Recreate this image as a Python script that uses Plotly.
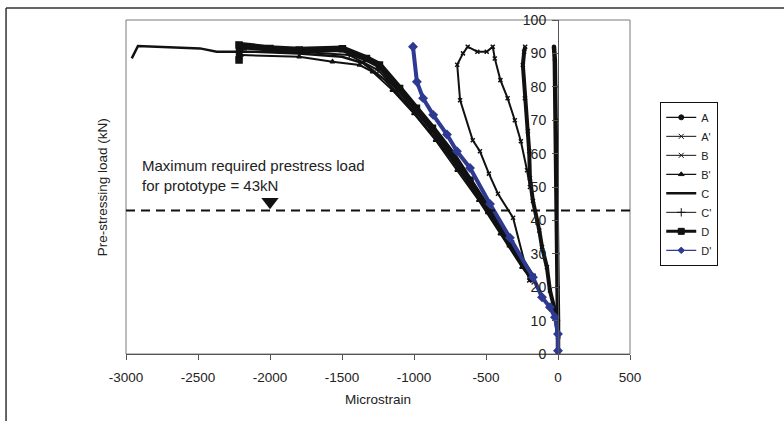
import plotly.graph_objects as go

# ---------------- data ----------------
A_x = [0, 2, 0, -3, -5, -8, -10, -12, -15, -18, -22, -28]
A_y = [0, 5, 10, 20, 30, 40, 50, 60, 70, 80, 88, 92]

A2_x = [0, -21, -56, -77, -111, -130, -174, -195, -200, -209, -230, -244, -235, -228]
A2_y = [5, 13, 19, 26, 32, 37, 45.8, 52.7, 60.7, 66.7, 76.6, 86.5, 90.5, 92]

B_x = [-200, -312, -417, -480, -542, -592, -680, -700, -660, -627, -560, -495, -453, -439, -400, -350, -300, -258, -215, -195]
B_y = [22, 40.8, 48, 54, 60.7, 64, 76, 86.6, 90, 92, 90.5, 90.5, 92, 88.5, 82, 76.6, 70, 63.7, 55, 50]

B2_x = [-180, -250, -400, -550, -700, -850, -1000, -1150, -1287, -1378, -1566, -1797, -2200]
B2_y = [22, 26, 36, 46, 55, 64, 72, 79, 84.5, 86.5, 87.5, 89, 89.5]

C_x = [-170, -300, -450, -600, -750, -900, -1050, -1200, -1350, -1500, -1800, -2100, -2370, -2486, -2917, -2960]
C_y = [22, 31, 41, 50, 59, 67, 75, 82, 87, 89, 90, 90.5, 90.5, 91.5, 92.2, 88.5]

C2_x = [-180, -350, -520, -700, -880, -1050, -1250, -1450, -1800, -2190]
C2_y = [23, 35, 46, 57, 67, 76, 85, 89.5, 90.5, 91.5]

D_x = [-180, -330, -480, -611, -732, -872, -983, -1100, -1240, -1330, -1497, -1797, -2000, -2187, -2215, -2215]
D_y = [23, 33, 43, 52, 59.8, 67.6, 73.6, 79.5, 86.5, 88.5, 91.4, 91, 91.5, 92, 92.5, 88]

D2_x = [0, 0, -21, -56, -111, -174, -334, -472, -611, -702, -771, -867, -937, -980, -1007]
D2_y = [1, 6, 11, 14, 17, 23, 34.8, 44.9, 55.7, 60.7, 65.7, 71.6, 76.6, 81.5, 92]

required_load = 43
arrow_x = [-2000]
arrow_y = [45.6]
note_x = [-2900]
note_y = [53.5]

x_ticks = [-3000, -2500, -2000, -1500, -1000, -500, 0, 500]
x_tick_text = ["-3000", "-2500", "-2000", "-1500", "-1000", "-500", "0", "500"]
y_ticks = [0, 10, 20, 30, 40, 50, 60, 70, 80, 90, 100]

FONT = "Liberation Sans, Arial, sans-serif"
BLACK = "#111111"
BLUE = "#2e3a92"
TXT = "#222222"

fig = go.Figure()

# (name, x, y, colour, plot width, symbol, plot marker size, legend width, legend marker size)
series = [
    ("A", A_x, A_y, BLACK, 4.5, "circle", 3, 1.2, 5),
    ("A'", A2_x, A2_y, BLACK, 4, "x-thin-open", 4, 1.0, 5),
    ("B", B_x, B_y, BLACK, 2, "x-thin-open", 4, 1.0, 5),
    ("B'", B2_x, B2_y, BLACK, 2, "triangle-up", 4, 1.2, 5),
    ("C", C_x, C_y, BLACK, 2.5, None, 0, 2.5, 0),
    ("C'", C2_x, C2_y, BLACK, 2, "cross-thin-open", 4, 1.0, 6),
    ("D", D_x, D_y, BLACK, 6.5, "square", 6, 3, 6),
    ("D'", D2_x, D2_y, BLUE, 4, "diamond", 6, 1.2, 5),
]

for name, xs, ys, col, w, sym, ms, lw, lms in series:
    mode = "lines+markers" if sym else "lines"
    mk = dict(symbol=sym, size=ms, color=col, line=dict(color=col, width=1.5)) if sym else None
    fig.add_trace(go.Scatter(x=xs, y=ys, name=name, mode=mode, showlegend=False,
                             line=dict(color=col, width=w), marker=mk))

# legend-only entries (thin samples like the original legend)
for name, xs, ys, col, w, sym, ms, lw, lms in series:
    mode = "lines+markers" if sym else "lines"
    mk = dict(symbol=sym, size=lms, color=col, line=dict(color=col, width=1)) if sym else None
    fig.add_trace(go.Scatter(x=[None], y=[None], name=name, mode=mode, showlegend=True,
                             line=dict(color=col, width=lw), marker=mk))

# arrow marker for required load
fig.add_trace(go.Scatter(x=arrow_x, y=arrow_y, mode="markers", showlegend=False,
                         marker=dict(symbol="triangle-down", size=15, color=BLACK),
                         hoverinfo="skip"))

# dashed line for required load
fig.add_shape(type="line", xref="paper", yref="y", x0=0, x1=1,
              y0=required_load, y1=required_load,
              line=dict(color=BLACK, width=2, dash="9px,6px"))

# plot-area frame
fig.add_shape(type="rect", xref="paper", yref="paper", x0=0, x1=1, y0=0, y1=1,
              line=dict(color="#7a7a7a", width=1), layer="below")

# outer frame lines (top and left)
fig.add_shape(type="line", xref="paper", yref="paper", x0=-0.238, x1=1.31, y0=1.0357, y1=1.0357,
              line=dict(color="#333333", width=1.5))
fig.add_shape(type="line", xref="paper", yref="paper", x0=-0.238, x1=-0.238, y0=-0.21, y1=1.0357,
              line=dict(color="#333333", width=1.5))

fig.add_annotation(x=note_x[0], y=note_y[0], xref="x", yref="y", xanchor="left", yanchor="middle",
                   text="Maximum required prestress load<br>for prototype = 43kN",
                   showarrow=False, align="left",
                   font=dict(family=FONT, size=15, color=TXT))

fig.add_annotation(x=-0.066, y=0.5, xref="paper", yref="paper", textangle=-90,
                   text="Pre-stressing load (kN)", showarrow=False,
                   font=dict(family=FONT, size=13.5, color=TXT))

fig.update_layout(
    width=784, height=421,
    margin=dict(l=126, r=154, t=18, b=67),
    paper_bgcolor="white", plot_bgcolor="white",
    font=dict(family=FONT, size=13, color=TXT),
    xaxis=dict(range=[-3000, 500], tickvals=x_ticks, ticktext=x_tick_text,
               showgrid=False, zeroline=False,
               showline=True, linecolor="#555555", linewidth=1,
               ticks="outside", ticklen=5, tickcolor="#555555",
               ticklabelstandoff=6,
               tickfont=dict(family=FONT, size=13.5),
               title=dict(text="Microstrain", standoff=10,
                          font=dict(family=FONT, size=13.5))),
    yaxis=dict(range=[0, 100], tickvals=y_ticks, showgrid=False, zeroline=False,
               anchor="free", position=3000 / 3500,
               showline=True, linecolor="#555555", linewidth=1,
               ticks="outside", ticklen=6, tickcolor="#555555",
               ticklabelstandoff=3,
               tickfont=dict(family=FONT, size=14)),
    legend=dict(x=1.06, y=0.755, xanchor="left", yanchor="top",
                bordercolor=BLACK, borderwidth=1, bgcolor="white",
                font=dict(family=FONT, size=11, color=TXT),
                itemwidth=30, tracegroupgap=0),
    showlegend=True,
)

fig.write_html("out.html")
